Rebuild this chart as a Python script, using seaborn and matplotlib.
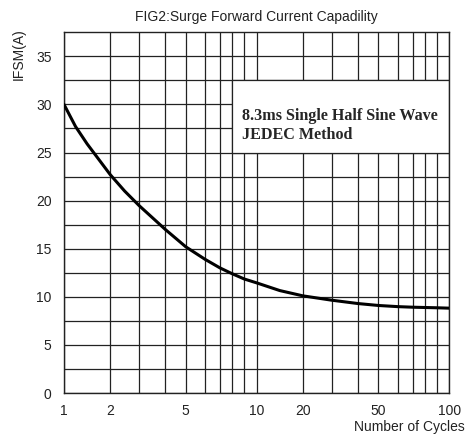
import numpy as np
import pandas as pd
import matplotlib
matplotlib.use("Agg")
import matplotlib.pyplot as plt
import seaborn as sns
from matplotlib.patches import Rectangle

# curve
cycles = [1, 1.25, 1.5, 1.75, 2, 2.5, 3, 4, 5, 6, 7, 8, 9, 10, 15, 20, 30, 40, 50, 60, 70, 80, 90, 100]
ifsm = [30.0, 27.7, 25.9, 24.3, 22.7, 21.0, 19.5, 17.0, 15.2, 13.9, 13.0, 12.4, 11.85, 11.45,
        10.65, 10.1, 9.65, 9.3, 9.1, 8.98, 8.92, 8.89, 8.86, 8.82]

x_tick_vals = [1, 2, 5, 10, 20, 50, 100]
x_grid_vals = [1, 2, 3, 4, 5, 6, 7, 8, 9, 10, 20, 30, 40, 50, 60, 70, 80, 90, 100]
y_tick_vals = [0, 5, 10, 15, 20, 25, 30, 35]
y_grid_vals = [2.5, 7.5, 12.5, 17.5, 22.5, 27.5, 32.5]

note_lines = ["8.3ms Single Half Sine Wave", "JEDEC Method"]

# the chart paper is not a true log scale: spacing inside each decade
mant = np.array([1, 2, 3, 4, 5, 6, 7, 8, 9, 10], dtype=float)
frac = np.array([0, 0.240, 0.389, 0.526, 0.632, 0.732, 0.810, 0.873, 0.936, 1.0])


def fwd(x):
    x = np.asarray(x, dtype=float)
    x = np.where(x > 0, x, 1e-9)
    d = np.floor(np.log10(x) + 1e-12)
    m = x / 10.0 ** d
    return d + np.interp(m, mant, frac)


def inv(y):
    y = np.asarray(y, dtype=float)
    d = np.floor(y + 1e-12)
    m = np.interp(y - d, frac, mant)
    return m * 10.0 ** d


df = pd.DataFrame({"cycles": cycles, "ifsm": ifsm})

sns.set_style("white")
plt.rcParams["font.family"] = ["Liberation Sans", "DejaVu Sans"]

fig = plt.figure(figsize=(4.73, 4.40), dpi=100)
ax = fig.add_axes([0.1353, 0.1068, 0.8147, 0.8198])

sns.lineplot(data=df, x="cycles", y="ifsm", color="black", linewidth=2.2,
             errorbar=None, ax=ax, zorder=3)

ax.set_xscale("function", functions=(fwd, inv))
ax.set_xlim(1, 100)
ax.set_ylim(0, 37.5)

ax.set_xticks(x_tick_vals)
ax.set_xticklabels([str(v) for v in x_tick_vals])
ax.set_xticks(x_grid_vals, minor=True)
ax.set_yticks(y_tick_vals)
ax.set_yticks(y_grid_vals, minor=True)
ax.tick_params(which="both", length=0, labelsize=10, colors="#222222")
ax.tick_params(axis="x", pad=8)
ax.tick_params(axis="y", pad=9)

ax.grid(True, which="both", color="#222222", linewidth=0.9)
ax.set_axisbelow(True)
for s in ax.spines.values():
    s.set_color("#222222")
    s.set_linewidth(1.0)
    s.set_visible(True)

# note box sits on the grid between 8 and 100 cycles, 25 to 32.5 A
box_x0, box_x1, box_y0, box_y1 = 8, 100, 25, 32.5
ax.add_patch(Rectangle((box_x0, box_y0), box_x1 - box_x0, box_y1 - box_y0,
                       facecolor="white", edgecolor="#222222", linewidth=0.9,
                       zorder=2))
ax.text(0.461, 0.758, note_lines[0], transform=ax.transAxes,
        fontsize=11.6, fontweight="bold", family=["Liberation Serif"],
        ha="left", va="baseline", zorder=4)
ax.text(0.461, 0.7055, note_lines[1], transform=ax.transAxes,
        fontsize=11.6, fontweight="bold", family=["Liberation Serif"],
        ha="left", va="baseline", zorder=4)

ax.set_title("FIG2:Surge Forward Current Capadility", fontsize=10,
             color="#222222", pad=8)
ax.set_ylabel("IFSM(A)", fontsize=10, color="#222222", loc="top")
ax.yaxis.set_label_coords(-0.1, 1.01)
ax.set_xlabel("Number of Cycles", fontsize=10, color="#222222", loc="right")
ax.xaxis.set_label_coords(1.04, -0.075)

fig.savefig("out.png", dpi=100)
